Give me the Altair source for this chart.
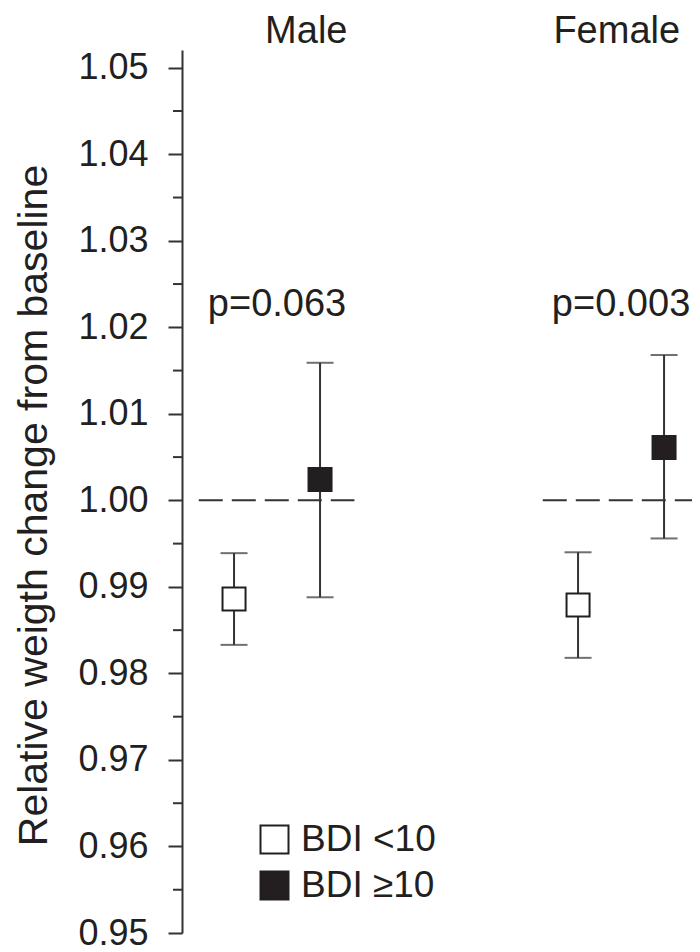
import altair as alt
import pandas as pd

# ---- data ----
sexes = ["Male", "Female"]
bdi_groups = ["BDI <10", "BDI \u226510"]
means = [0.9886, 1.0024, 0.9879, 1.0061]
lower = [0.9833, 0.9888, 0.9818, 0.9956]
upper = [0.9939, 1.0159, 0.9940, 1.0168]
p_values = ["p=0.063", "p=0.003"]
reference_value = 1.00
major_ticks = [0.95, 0.96, 0.97, 0.98, 0.99, 1.00, 1.01, 1.02, 1.03, 1.04, 1.05]
minor_ticks = [0.955, 0.965, 0.975, 0.985, 0.995, 1.005, 1.015, 1.025, 1.035, 1.045]

# ---- layout (positions on a numeric x axis) ----
rows = []
i = 0
for g, sex in enumerate(sexes):
    for s, b in enumerate(bdi_groups):
        rows.append({"sex": sex, "bdi": b, "pos": 1 + 4 * g + s,
                     "mean": means[i], "lo": lower[i], "hi": upper[i]})
        i += 1
df = pd.DataFrame(rows)

centers = [1.5 + 4 * g for g in range(len(sexes))]
title_shift = [0.34, -0.05]
df_titles = pd.DataFrame({"label": sexes, "x": [c + d for c, d in zip(centers, title_shift)]})
df_p = pd.DataFrame({"label": p_values, "x": centers})
df_ref = pd.DataFrame({"x": [c - 0.91 for c in centers],
                       "x2": [c + 0.9 if k == 0 else c + 1.5 for k, c in enumerate(centers)],
                       "y": [reference_value] * len(centers)})
df_minor = pd.DataFrame({"v": minor_ticks})

FONT = "Liberation Sans"
INK = "#231f20"
LINE = "#333333"

xscale = alt.Scale(domain=[0.395, 6.325], nice=False, zero=False)
yscale = alt.Scale(domain=[0.95, 1.05205], nice=False, zero=False)

base = alt.Chart(df)

yaxis = alt.Axis(values=major_ticks, format=".2f", tickSize=14, tickWidth=2,
                 tickColor=LINE, domainColor=LINE, domainWidth=2, grid=False,
                 labelFont=FONT, labelFontSize=36, labelColor=INK, labelPadding=20,
                 title="Relative weigth change from baseline", titleFont=FONT,
                 titleFontSize=41, titleFontWeight="normal", titleColor=INK,
                 titleAngle=-90, titleX=-136, titleY=455, titleAlign="center",
                 titleBaseline="alphabetic")

minor = alt.Chart(df_minor).mark_rule(color=LINE, strokeWidth=2).encode(
    y=alt.Y("v:Q", scale=yscale, axis=yaxis),
    x=alt.value(-9), x2=alt.value(0))

ref = alt.Chart(df_ref).mark_rule(color=LINE, strokeWidth=2, strokeDash=[24, 9], clip=True).encode(
    x=alt.X("x:Q", scale=xscale, axis=None), x2="x2:Q",
    y=alt.Y("y:Q", scale=yscale))

bars = base.mark_rule(color=LINE, strokeWidth=2).encode(
    x=alt.X("pos:Q", scale=xscale, axis=None),
    y=alt.Y("lo:Q", scale=yscale), y2="hi:Q")

caps_lo = base.mark_tick(color=LINE, thickness=2, size=27, orient="horizontal").encode(
    x=alt.X("pos:Q", scale=xscale, axis=None), y=alt.Y("lo:Q", scale=yscale))
caps_hi = base.mark_tick(color=LINE, thickness=2, size=27, orient="horizontal").encode(
    x=alt.X("pos:Q", scale=xscale, axis=None), y=alt.Y("hi:Q", scale=yscale))

points = base.mark_point(shape="square", size=530, filled=True, stroke=INK,
                         strokeWidth=2, opacity=1).encode(
    x=alt.X("pos:Q", scale=xscale, axis=None),
    y=alt.Y("mean:Q", scale=yscale),
    fill=alt.Fill("bdi:N", scale=alt.Scale(domain=bdi_groups, range=["white", INK]),
                  legend=alt.Legend(title=None, orient="none", legendX=74, legendY=771,
                                    symbolType="square", symbolSize=784,
                                    symbolStrokeColor=INK, symbolStrokeWidth=2,
                                    symbolOpacity=1,
                                    labelFont=FONT, labelFontSize=37, labelColor=INK,
                                    labelOffset=8, rowPadding=8, padding=0)))

titles = alt.Chart(df_titles).mark_text(font=FONT, fontSize=38, color=INK,
                                        align="center", baseline="alphabetic").encode(
    x=alt.X("x:Q", scale=xscale, axis=None), y=alt.value(-7), text="label:N")

ptext = alt.Chart(df_p).mark_text(font=FONT, fontSize=38, color=INK,
                                  align="center", baseline="alphabetic").encode(
    x=alt.X("x:Q", scale=xscale, axis=None), y=alt.value(266), text="label:N")

chart = alt.layer(minor, ref, bars, caps_lo, caps_hi, points, titles, ptext).properties(
    width=510, height=883,
    background="white",
    autosize=alt.AutoSizeParams(type="none"),
    padding={"left": 174, "top": 42, "right": 0, "bottom": 20},
).configure_view(stroke=None, strokeWidth=0)

chart.save("out.html", embed_options={"renderer": "svg", "actions": False})
